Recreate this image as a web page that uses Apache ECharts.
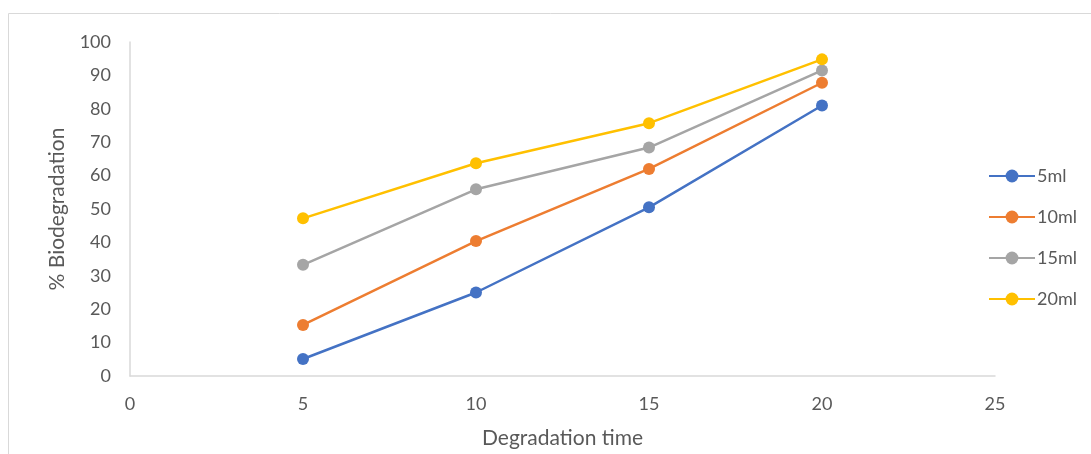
<!DOCTYPE html>
<html><head><meta charset="utf-8">
<script src="https://cdn.jsdelivr.net/npm/echarts@6/dist/echarts.min.js"></script>
<style>html,body{margin:0;padding:0;background:#fff}#c{width:1091px;height:454px}</style>
</head><body><div id="c"></div>
<script>
const xValues = [5, 10, 15, 20];
const seriesNames = ['5ml', '10ml', '15ml', '20ml'];
const s5ml = [5.1, 25.0, 50.5, 81.0];
const s10ml = [15.3, 40.4, 62.0, 87.8];
const s15ml = [33.3, 55.9, 68.4, 91.5];
const s20ml = [47.2, 63.7, 75.7, 94.8];
const colors = ['#4472C4', '#ED7D31', '#A5A5A5', '#FFC000'];
const allData = [s5ml, s10ml, s15ml, s20ml];

const chart = echarts.init(document.getElementById('c'));
const font = 'Lato, "Open Sans", sans-serif';
chart.setOption({
  animation: false,
  color: colors,
  graphic: [{type:'rect', shape:{x:8.5,y:13.5,width:1200,height:600}, style:{fill:'none', stroke:'#d9d9d9', lineWidth:1}, silent:true}],
  grid: {left:130, right:96, top:42, bottom:75},
  legend: {
    orient:'vertical', left:983, top:162, padding:5, itemGap:23, itemWidth:46, itemHeight:16,
    textStyle:{color:'#595959', fontSize:18, fontFamily:font, padding:[0,0,0,-3]},
    data: seriesNames
  },
  xAxis: {
    type:'value', min:0, max:25, interval:5,
    name:'Degradation time', nameLocation:'middle', nameGap:52,
    nameTextStyle:{color:'#595959', fontSize:21, fontFamily:font},
    axisLine:{show:true, lineStyle:{color:'#d9d9d9', width:1.5}},
    axisTick:{show:false}, splitLine:{show:false},
    axisLabel:{color:'#595959', fontSize:18, fontFamily:font, margin:19}
  },
  yAxis: {
    type:'value', min:0, max:100, interval:10,
    name:'% Biodegradation', nameLocation:'middle', nameGap:62, nameRotate:90,
    nameTextStyle:{color:'#595959', fontSize:21, fontFamily:font},
    axisLine:{show:true, lineStyle:{color:'#d9d9d9', width:1.5}},
    axisTick:{show:false}, splitLine:{show:false},
    axisLabel:{color:'#595959', fontSize:18, fontFamily:font, margin:19}
  },
  series: seriesNames.map((n,i)=>({
    name:n, type:'line', data:xValues.map((x,j)=>[x, allData[i][j]]),
    symbol:'circle', symbolSize:12,
    lineStyle:{width:2.5, color:colors[i]}, itemStyle:{color:colors[i]}
  }))
});
</script></body></html>
